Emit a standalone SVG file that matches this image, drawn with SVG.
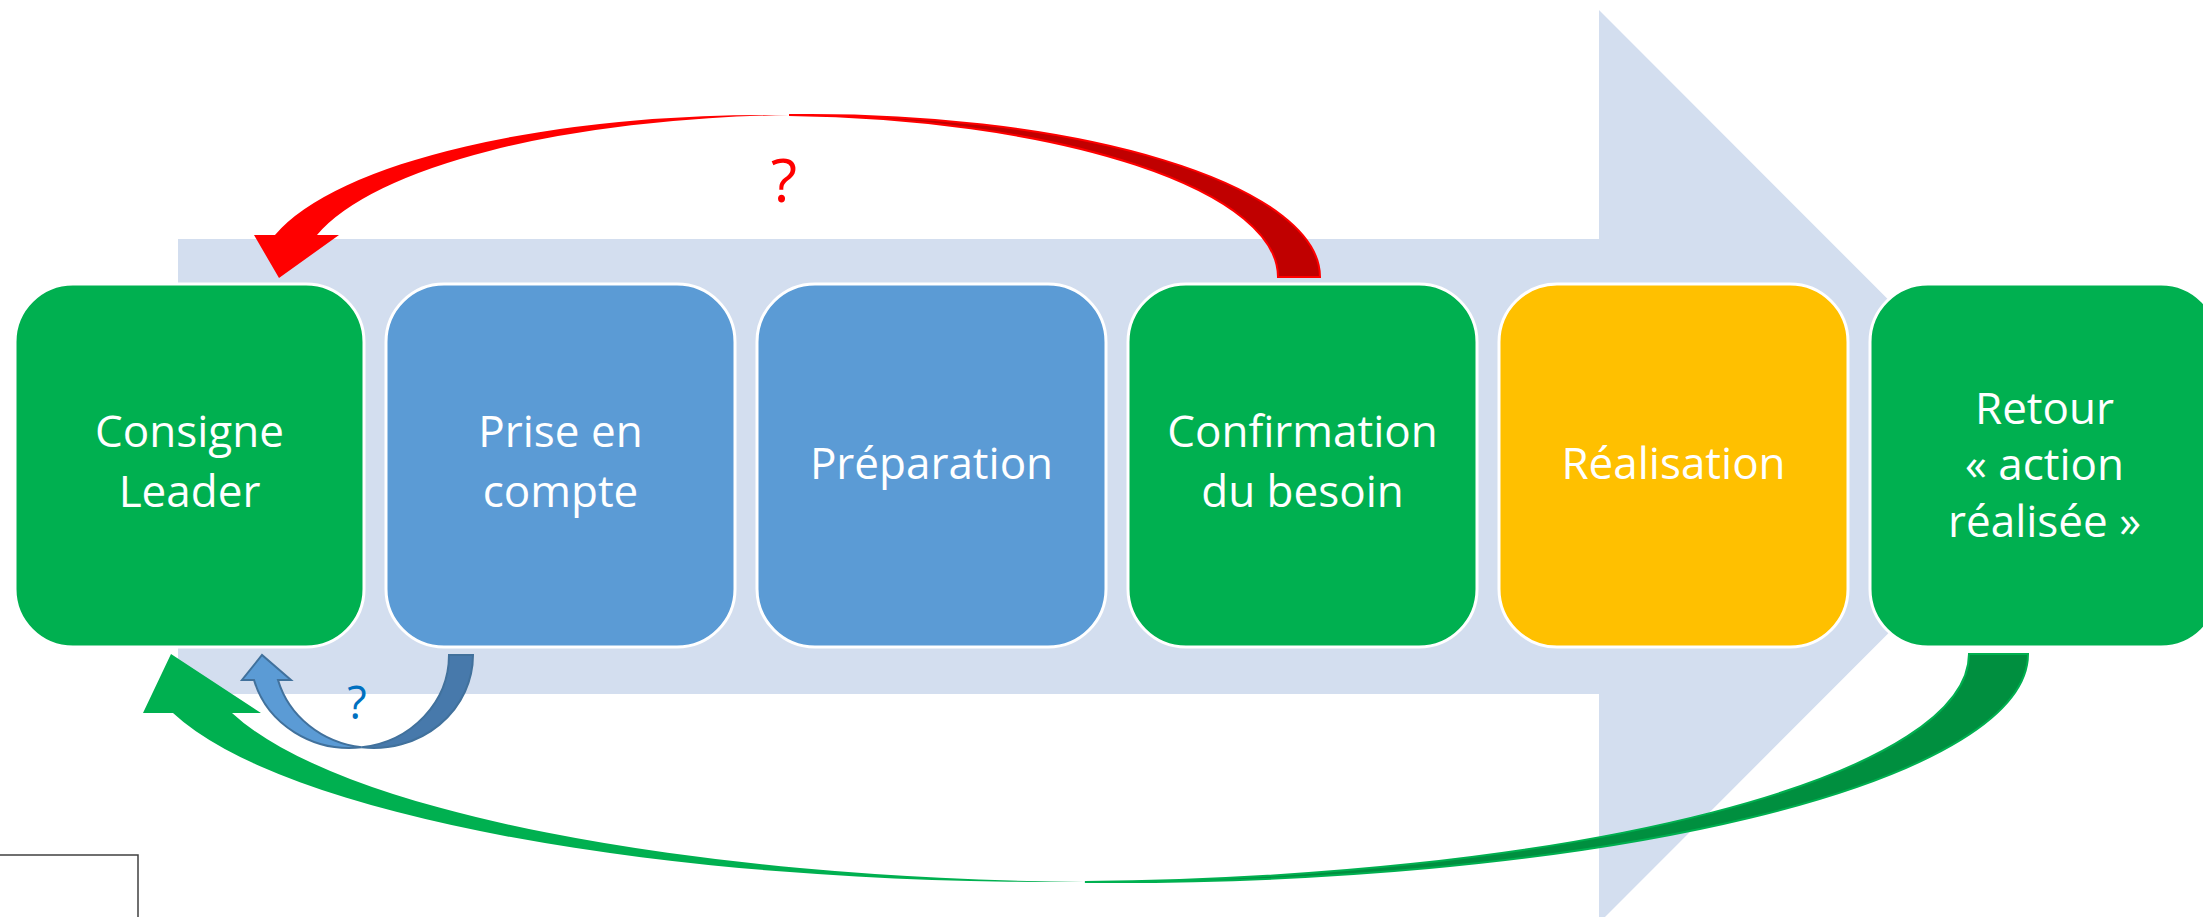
<svg xmlns="http://www.w3.org/2000/svg" width="2203" height="917" viewBox="0 0 2203 917">
  <style>
    .step { stroke: #FFFFFF; stroke-width: 3; }
    .green { fill: #00B050; }
    .blue { fill: #5B9BD5; }
    .yellow { fill: #FFC000; }
    .label { font-family: "Open Sans", "Liberation Sans", sans-serif; font-size: 44px; fill: #FFFFFF; text-anchor: middle; }
    .q { font-family: "Open Sans", "Liberation Sans", sans-serif; text-anchor: middle; }
  </style>

  <rect width="2203" height="917" fill="#FFFFFF"/>

  <!-- background process arrow -->
  <polygon id="process-arrow" points="178,239 1599,239 1599,10 2055,466.5 1599,923 1599,694 178,694" fill="#D3DEEF"/>

  <g id="step-consigne">
    <rect class="step green" x="15" y="284" width="349" height="363" rx="58" ry="58"/>
    <text class="label"><tspan x="189.5" y="447">Consigne</tspan><tspan x="189.5" y="507">Leader</tspan></text>
  </g>
  <g id="step-prise">
    <rect class="step blue" x="386" y="284" width="349" height="363" rx="58" ry="58"/>
    <text class="label"><tspan x="560.5" y="447">Prise en</tspan><tspan x="560.5" y="507">compte</tspan></text>
  </g>
  <g id="step-preparation">
    <rect class="step blue" x="757" y="284" width="349" height="363" rx="58" ry="58"/>
    <text class="label" x="931.5" y="479">Préparation</text>
  </g>
  <g id="step-confirmation">
    <rect class="step green" x="1128" y="284" width="349" height="363" rx="58" ry="58"/>
    <text class="label"><tspan x="1302.5" y="447">Confirmation</tspan><tspan x="1302.5" y="507">du besoin</tspan></text>
  </g>
  <g id="step-realisation">
    <rect class="step yellow" x="1499" y="284" width="349" height="363" rx="58" ry="58"/>
    <text class="label" x="1673.5" y="479">Réalisation</text>
  </g>
  <g id="step-retour">
    <rect class="step green" x="1870" y="284" width="349" height="363" rx="58" ry="58"/>
    <text class="label"><tspan x="2044.5" y="424">Retour</tspan><tspan x="2044.5" y="480">« action</tspan><tspan x="2044.5" y="537">réalisée »</tspan></text>
  </g>

  <!-- each loop is a ribbon between two equal ellipses offset sideways;
       the back face (tail side) is darker, the front face carries the head -->
  <g id="connectors">
    <g id="loop-red">
      <path d="M1320,277 A510,162 0 0 0 789,115.1 A510,162 0 0 1 1278,277 Z" fill="#C00000" stroke="#FF0000" stroke-width="2"/>
      <path d="M789,115.1 A510,162 0 0 0 275,235 L254,235 L279,278 L339,235 L317,235 A510,162 0 0 1 789,115.1 Z" fill="#FF0000"/>
      <text class="q" x="784" y="202" font-size="61" fill="#FF0000">?</text>
    </g>
    <g id="loop-blue">
      <path d="M473,655 A99.3,93 0 0 1 361.7,747.3 A99.3,93 0 0 0 449,655 Z" fill="#4779AB" stroke="#41719C" stroke-width="2"/>
      <path d="M361.7,747.3 A99.3,93 0 0 1 254,680 L242,680 L262,655 L291,680 L278,680 A99.3,93 0 0 0 361.7,747.3 Z" fill="#5B9BD5" stroke="#41719C" stroke-width="2"/>
      <text class="q" x="357" y="719" font-size="45" fill="#0070C0">?</text>
    </g>
    <g id="loop-green">
      <path d="M2028,654 A913.6,228 0 0 1 1084.9,881.9 A913.6,228 0 0 0 1969,654 Z" fill="#008F3F" stroke="#00B050" stroke-width="2"/>
      <path d="M1084.9,881.9 A913.6,228 0 0 1 173,713 L143,713 L171,654 L261,713 L232,713 A913.6,228 0 0 0 1084.9,881.9 Z" fill="#00B050"/>
    </g>
  </g>

  <!-- frame corner at lower left -->
  <path d="M0,855 H138 V917" fill="none" stroke="#404040" stroke-width="1.5"/>
</svg>
